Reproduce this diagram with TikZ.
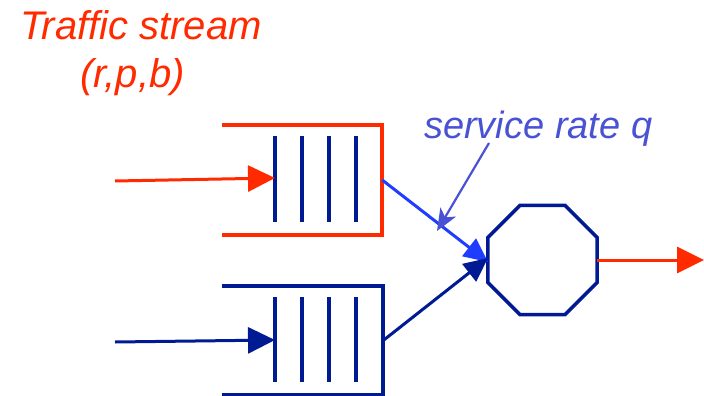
\documentclass[tikz,border=0pt]{standalone}
\usepackage{fontspec}
\setmainfont{Liberation Sans}
\usetikzlibrary{arrows.meta,shapes.geometric}
\definecolor{flowred}{HTML}{FF2A00}
\definecolor{qblue}{HTML}{001A94}
\definecolor{linkblue}{HTML}{1F3DFF}
\definecolor{notblue}{HTML}{4A52D4}
\tikzset{
  boxline/.style={line width=3.5pt},
  bar/.style={qblue, line width=3.5pt},
  feed/.style={line width=3pt, -{Triangle[length=27pt,width=26pt]}},
  link/.style={line width=3pt, -{Triangle[length=24pt,width=22pt]}},
  callout/.style={notblue, line width=2.2pt, -{Stealth[length=22pt,width=18pt,inset=6pt]}},
  label/.style={font=\itshape\fontsize{40}{48}\selectfont, inner sep=0pt}
}
\begin{document}
\begin{tikzpicture}[x=1pt,y=-1pt]
\useasboundingbox (0,0) rectangle (704,396);

% labels
\node[label, flowred, anchor=base west] (title) at (20,40) {Traffic stream};
\node[label, flowred, anchor=base west] (params) at (80,88) {(r,p,b)};
\node[label, notblue, anchor=base west, font=\itshape\fontsize{38}{46}\selectfont] (rate) at (424,138) {service rate q};

% the two queues
\node[minimum width=160pt, minimum height=110pt, inner sep=0pt] (q1) at (302,180) {};
\node[minimum width=161pt, minimum height=109pt, inner sep=0pt] (q2) at (302.5,340.5) {};
\draw[boxline, flowred] (q1.north west) -- (q1.north east) -- (q1.south east) -- (q1.south west);
\draw[boxline, qblue] (q2.north west) -- (q2.north east) -- (q2.south east) -- (q2.south west);
\foreach \x in {275,302,329,356} {
  \draw[bar] (\x,136) -- (\x,222);
  \draw[bar] (\x,297) -- (\x,382);
}

% server
\node[regular polygon, regular polygon sides=8, draw=qblue, line width=3.5pt,
      minimum size=118pt, inner sep=0pt, outer sep=0pt] (srv) at (542.5,260) {};

% arrivals
\coordinate (in1) at (115,181);
\coordinate (in2) at (115,342);
\coordinate (bar1) at (275,178);
\coordinate (bar2) at (275,340);
\draw[feed, flowred] (in1) -- (bar1);
\draw[feed, qblue] (in2) -- (bar2);

% links to the server
\draw[link, linkblue] (q1.east) -- ([yshift=-2pt]srv.west);
\draw[link, qblue] (q2.east) -- ([yshift=2pt]srv.west);

% departure
\coordinate (out) at (704,260);
\draw[feed, flowred] (srv.east) -- (out);

% callout
\coordinate (rateptr) at (437,231);
\draw[callout] (489,143) -- (rateptr);
\end{tikzpicture}
\end{document}
